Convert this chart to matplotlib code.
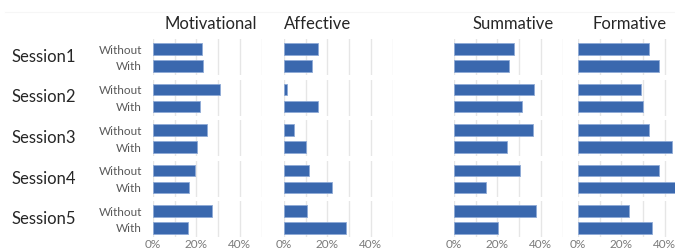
import matplotlib.pyplot as plt
from matplotlib.ticker import MultipleLocator

plt.rcParams['font.family'] = ['Lato', 'DejaVu Sans']

sessions = ['Session1', 'Session2', 'Session3', 'Session4', 'Session5']
conditions = ['Without', 'With']
panels = ['Motivational', 'Affective', 'Summative', 'Formative']

# share of feedback per session, [without, with]
motivational = [[0.226, 0.230], [0.309, 0.217], [0.247, 0.203], [0.195, 0.164], [0.273, 0.161]]
affective = [[0.158, 0.130], [0.015, 0.158], [0.048, 0.101], [0.115, 0.223], [0.104, 0.285]]
summative = [[0.276, 0.255], [0.370, 0.312], [0.362, 0.246], [0.306, 0.146], [0.376, 0.201]]
formative = [[0.329, 0.372], [0.290, 0.300], [0.329, 0.434], [0.372, 0.470], [0.234, 0.341]]
values = [motivational, affective, summative, formative]

W, H = 675, 250
fig = plt.figure(figsize=(W / 100, H / 100), dpi=100)

bar_color = '#3a68ae'
col_left = [153, 284, 454, 578]
col_width = 108.5
row_top0, row_pitch, row_h = 39, 40.5, 36

# faint rule across the top
fig.add_artist(plt.Line2D([5 / W, 1], [1 - 12 / H, 1 - 12 / H], color='#f6f6f6', linewidth=0.8))

for r, sess in enumerate(sessions):
    top = row_top0 + r * row_pitch
    for c, name in enumerate(panels):
        ax = fig.add_axes([col_left[c] / W, 1 - (top + row_h) / H, col_width / W, row_h / H])
        ax.barh(range(len(conditions)), values[c][r], height=0.7, color=bar_color,
                edgecolor='#8eaad6', linewidth=0.6, zorder=3)
        ax.set_xlim(0, 0.5)
        ax.set_ylim(1.53, -0.59)
        ax.xaxis.set_major_locator(MultipleLocator(0.1))
        ax.grid(axis='x', color='#e6e6e6', linewidth=1, zorder=0)
        for s in ax.spines.values():
            s.set_visible(False)
        ax.tick_params(length=0)
        if c == 0:
            ax.set_yticks(range(len(conditions)))
            ax.set_yticklabels(conditions, fontsize=8.5, color='#595959')
            ax.tick_params(axis='y', pad=8)
        else:
            ax.set_yticks([])
        if r == len(sessions) - 1:
            ax.set_xticks([0, 0.1, 0.2, 0.3, 0.4, 0.5])
            ax.set_xticklabels(['0%', '', '20%', '', '40%', ''], fontsize=8.5, color='#7a7a7a')
            ax.tick_params(axis='x', pad=1.5)
        else:
            ax.set_xticklabels([])
    fig.text(12 / W, 1 - (top + row_h / 2) / H, sess, fontsize=12, color='#262626',
             ha='left', va='center')

title_x = [211, 318, 513, 630]
for name, x in zip(panels, title_x):
    fig.text(x / W, 1 - 24 / H, name, fontsize=12, color='#262626', ha='center', va='center')

fig.savefig('out.png', dpi=100, facecolor='white')
